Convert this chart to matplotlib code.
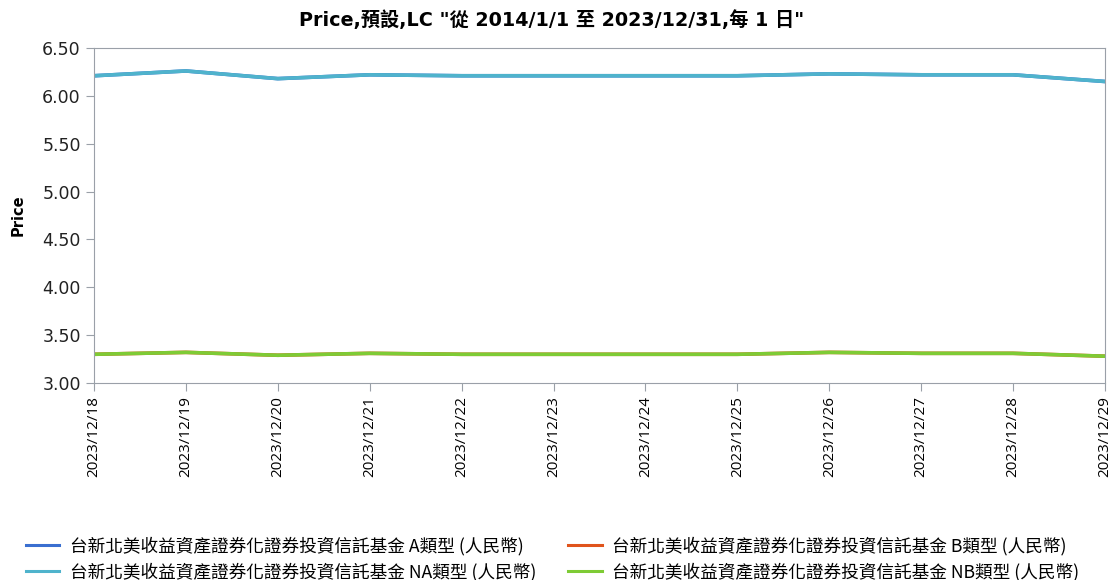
import numpy as np
import matplotlib.pyplot as plt
from matplotlib.lines import Line2D

# data
dates = ['2023/12/18', '2023/12/19', '2023/12/20', '2023/12/21', '2023/12/22', '2023/12/23',
         '2023/12/24', '2023/12/25', '2023/12/26', '2023/12/27', '2023/12/28', '2023/12/29']
price_A = [6.21, 6.26, 6.18, 6.22, 6.21, 6.21, 6.21, 6.21, 6.23, 6.22, 6.22, 6.15]
price_B = [3.30, 3.32, 3.29, 3.31, 3.30, 3.30, 3.30, 3.30, 3.32, 3.31, 3.31, 3.28]
price_NA = [6.21, 6.26, 6.18, 6.22, 6.21, 6.21, 6.21, 6.21, 6.23, 6.22, 6.22, 6.15]
price_NB = [3.30, 3.32, 3.29, 3.31, 3.30, 3.30, 3.30, 3.30, 3.32, 3.31, 3.31, 3.28]

fund = '台新北美收益資產證券化證券投資信託基金'
labels = [fund + ' A類型 (人民幣)', fund + ' B類型 (人民幣)',
          fund + ' NA類型 (人民幣)', fund + ' NB類型 (人民幣)']
colors = ['#3a6fd0', '#e0541c', '#4fb3cc', '#7ecb35']

plt.rcParams['font.family'] = ['DejaVu Sans', 'Noto Sans CJK TC']

fig = plt.figure(figsize=(11.17, 5.8), dpi=100)
ax = fig.add_axes([94 / 1117, 1 - 383 / 580, (1105 - 94) / 1117, (383 - 48) / 580])

x = np.arange(len(dates))
for series, color in zip([price_A, price_B, price_NA, price_NB], colors):
    ax.plot(x, series, color=color, lw=2.6, solid_joinstyle='round')

ax.set_xlim(0, len(dates) - 1)
ax.set_ylim(3.0, 6.5)
ax.set_yticks(np.arange(3.0, 6.51, 0.5))
ax.set_yticklabels([f'{v:.2f}' for v in np.arange(3.0, 6.51, 0.5)], fontsize=12.5, color='#222222')
ax.set_xticks(x)
ax.set_xticklabels(dates, rotation=90, fontsize=11, family=['Open Sans', 'DejaVu Sans'])
ax.tick_params(color='#9aa0a8', length=6)
for side in ['left', 'right', 'top', 'bottom']:
    ax.spines[side].set_color('#9aa0a8')
ax.set_ylabel('Price', fontsize=10.5, fontweight='bold', labelpad=12)

fig.text(552 / 1117, 1 - 20 / 580, 'Price,預設,LC "從 2014/1/1 至 2023/12/31,每 1 日"',
         ha='center', va='center', fontsize=13.8, fontweight='bold',
         family=['DejaVu Sans', 'Noto Sans CJK TC'])

# legend fills column-wise, so order A, NA | B, NB to get rows A B / NA NB
order = [0, 2, 1, 3]
handles = [Line2D([0], [0], color=colors[i], lw=2.2) for i in order]
fig.legend(handles, [labels[i] for i in order], loc='lower left',
           bbox_to_anchor=(10 / 1117, -0.03), ncol=2,
           frameon=False, handlelength=1.9, handletextpad=0.6,
           columnspacing=1.8, labelspacing=0.42,
           prop={'family': ['Noto Sans CJK TC', 'DejaVu Sans'], 'size': 12.7})

fig.savefig('out.png', dpi=100)
